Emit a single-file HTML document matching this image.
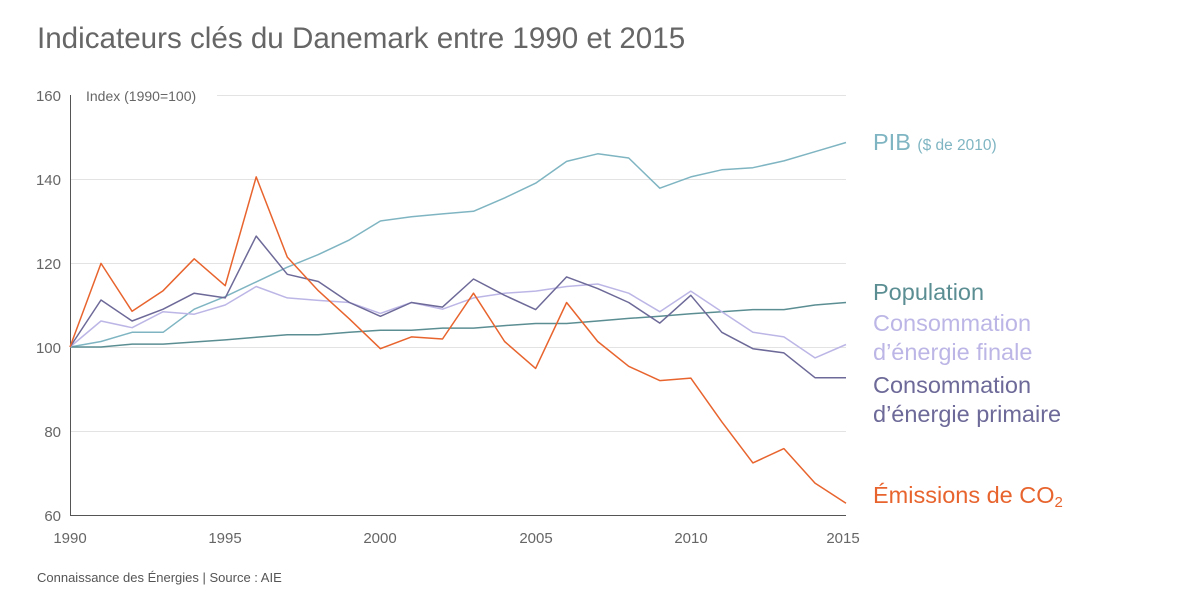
<!DOCTYPE html>
<html><head><meta charset="utf-8"><style>
body{margin:0;background:#fff;width:1200px;height:600px;overflow:hidden;font-family:"Liberation Sans",sans-serif}
</style></head><body>
<svg id="s" width="1200" height="600" xmlns="http://www.w3.org/2000/svg" font-family="Liberation Sans, sans-serif">
<text x="37" y="48" font-size="29.6" fill="#666">Indicateurs clés du Danemark entre 1990 et 2015</text>
<g stroke="#e3e3e3" stroke-width="1">
<line x1="217" y1="95.5" x2="846" y2="95.5"/>
<line x1="70" y1="179.5" x2="846" y2="179.5"/>
<line x1="70" y1="263.5" x2="846" y2="263.5"/>
<line x1="70" y1="347.5" x2="846" y2="347.5"/>
<line x1="70" y1="431.5" x2="846" y2="431.5"/>
</g>
<line x1="70.5" y1="95" x2="70.5" y2="515" stroke="#555" stroke-width="1"/>
<line x1="70" y1="515.5" x2="846" y2="515.5" stroke="#555" stroke-width="1"/>
<g font-size="15" fill="#666" text-anchor="end">
<text x="61" y="101">160</text><text x="61" y="185">140</text><text x="61" y="269">120</text>
<text x="61" y="353">100</text><text x="61" y="437">80</text><text x="61" y="521">60</text>
</g>
<text x="86" y="101" font-size="14" fill="#666">Index (1990=100)</text>
<g font-size="15" fill="#666" text-anchor="middle">
<text x="70" y="543">1990</text><text x="225" y="543">1995</text><text x="380" y="543">2000</text>
<text x="536" y="543">2005</text><text x="691" y="543">2010</text><text x="843" y="543">2015</text>
</g>
<g id="lines" fill="none" stroke-width="1.5" stroke-linejoin="round"></g>
<g font-size="23.5">
<text x="873" y="150" fill="#7fb5c2">PIB <tspan font-size="15.5">($ de 2010)</tspan></text>
<text x="873" y="300" fill="#5b8e93">Population</text>
<text x="873" y="331" fill="#bcb6e6">Consommation</text>
<text x="873" y="360" fill="#bcb6e6">d’énergie finale</text>
<text x="873" y="393" fill="#6d6998">Consommation</text>
<text x="873" y="422" fill="#6d6998">d’énergie primaire</text>
<text x="873" y="503" fill="#e8642e">Émissions de CO<tspan font-size="15" dy="4">2</tspan></text>
</g>
<text x="37" y="582" font-size="13" fill="#555">Connaissance des Énergies | Source : AIE</text>
</svg>
<script>
var D=[
["#7fb5c2",[100,101.3,103.5,103.5,109,112,115.5,119,122,125.5,130,131,131.7,132.3,135.5,139,144.2,146,145,137.8,140.5,142.2,142.7,144.3,146.5,148.7]],
["#5b8e93",[100,100,100.7,100.7,101.2,101.7,102.3,102.9,102.9,103.5,104,104,104.5,104.5,105.1,105.6,105.6,106.2,106.8,107.3,107.9,108.4,108.9,108.9,110,110.6]],
["#bcb6e6",[100,106.2,104.6,108.4,107.8,110,114.4,111.7,111.1,110.6,108,110.6,109,111.7,112.8,113.3,114.4,115,112.8,108.4,113.3,108.4,103.5,102.4,97.4,100.6]],
["#6d6998",[100,111.2,106.2,109,112.8,111.7,126.4,117.3,115.6,110.6,107.3,110.6,109.5,116.2,112.3,108.9,116.7,113.9,110.6,105.7,112.3,103.5,99.6,98.6,92.7,92.7]],
["#e8642e",[100,119.9,108.5,113.4,121,114.6,140.5,121.4,113.4,106.7,99.6,102.4,101.9,112.8,101.3,94.9,110.6,101.3,95.4,92,92.6,82.2,72.4,75.8,67.6,62.8]]];
var g=document.getElementById("lines"),ns="http://www.w3.org/2000/svg";
D.forEach(function(d){var p=document.createElementNS(ns,"polyline");
p.setAttribute("stroke",d[0]);
p.setAttribute("points",d[1].map(function(v,i){return (70+i*31.04).toFixed(1)+","+(515-(v-60)*4.2).toFixed(1)}).join(" "));
g.appendChild(p);});
</script>
</body></html>
